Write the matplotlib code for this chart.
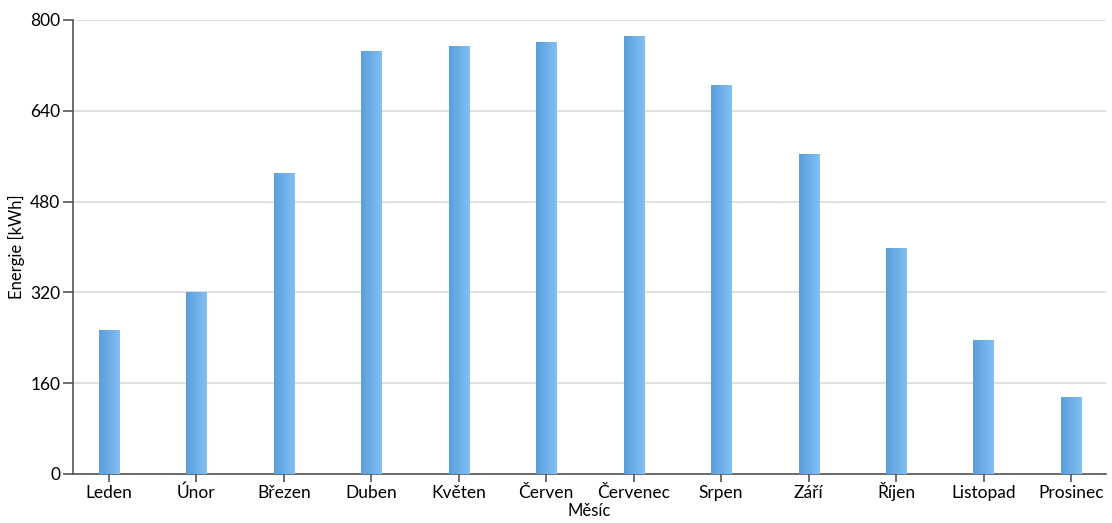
import numpy as np
import matplotlib.pyplot as plt
from matplotlib.colors import LinearSegmentedColormap

months = ["Leden", "Únor", "Březen", "Duben", "Květen", "Červen",
          "Červenec", "Srpen", "Září", "Říjen", "Listopad", "Prosinec"]
energy = [254, 320, 530, 746, 755, 762, 771, 685, 563, 398, 236, 136]
y_ticks = [0, 160, 320, 480, 640, 800]

plt.rcParams['font.family'] = ['Lato', 'DejaVu Sans']

fig = plt.figure(figsize=(11.12, 5.23), dpi=100)
ax = fig.add_axes([0.0656, 0.0937, 0.929, 0.8681])

x = np.arange(len(months))
bars = ax.bar(x, energy, width=0.23, color="#6aaae6", zorder=2)

# horizontal gradient inside each bar
cmap = LinearSegmentedColormap.from_list("bar", ["#5a9edb", "#82bff4"])
grad = np.linspace(0, 1, 64).reshape(1, -1)
for b in bars:
    x0, y0 = b.get_x(), b.get_y()
    w, h = b.get_width(), b.get_height()
    im = ax.imshow(grad, cmap=cmap, aspect="auto", zorder=3,
                   extent=(x0, x0 + w, y0, y0 + h), interpolation="bilinear")
    im.set_clip_path(b)

ax.set_xlim(-0.41, 11.4)
ax.set_ylim(0, 800)
ax.set_xticks(x)
ax.set_xticklabels(months, va="baseline")
ax.set_yticks(y_ticks)

ax.grid(axis="y", color="#dddddd", linewidth=1.3, zorder=0)
ax.set_axisbelow(True)
for s in ["top", "right"]:
    ax.spines[s].set_visible(False)
for s in ["left", "bottom"]:
    ax.spines[s].set_color("#555555")
    ax.spines[s].set_linewidth(1.2)
ax.tick_params(axis="y", length=7, width=1.2, color="#555555", labelsize=12.5, pad=2)
ax.tick_params(axis="x", length=6, width=1.2, color="#555555", labelsize=12.5, pad=11)

ax.set_xlabel("Měsíc", fontsize=12)
ax.xaxis.set_label_coords(0.5, -0.064)
ax.set_ylabel("Energie [kWh]", fontsize=12, labelpad=4)

fig.savefig("out.png", dpi=100)
